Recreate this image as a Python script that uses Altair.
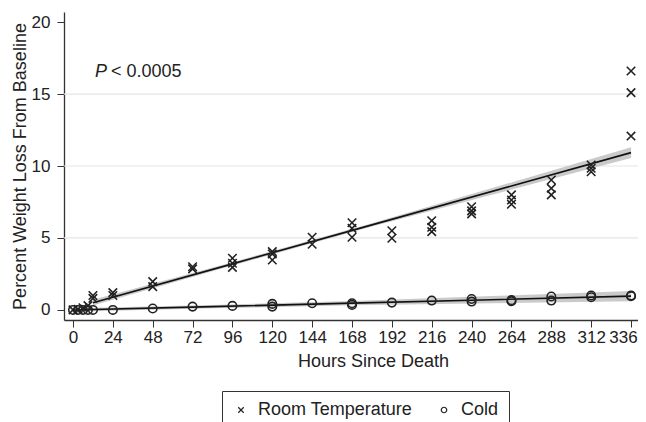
import altair as alt
import pandas as pd

# ---- data ----
room_t = [0, 3, 6, 9, 12, 12, 24, 24, 48, 48, 72, 72, 96, 96, 96, 120, 120, 120,
          144, 144, 168, 168, 168, 192, 192, 216, 216, 216, 240, 240, 240,
          264, 264, 264, 288, 288, 288, 312, 312, 312, 336, 336, 336]
room_v = [0.0, 0.05, 0.15, 0.3, 0.8, 1.0, 1.0, 1.2, 1.62, 1.97, 2.85, 3.0, 2.96, 3.24, 3.59,
          3.47, 3.89, 4.05, 4.56, 5.05, 5.05, 5.67, 6.06, 4.98, 5.5, 5.44, 5.74, 6.2,
          6.67, 6.88, 7.17, 7.34, 7.64, 7.99, 7.99, 8.45, 9.03, 9.6, 9.84, 10.07,
          12.08, 15.1, 16.6]

cold_t = [0, 3, 6, 9, 12, 24, 48, 72, 96, 120, 120, 144, 168, 168, 192, 216,
          240, 240, 264, 264, 288, 288, 312, 312, 336, 336]
cold_v = [0.0, 0.0, 0.0, 0.0, 0.0, 0.0, 0.1, 0.23, 0.28, 0.23, 0.42, 0.46, 0.35, 0.46,
          0.51, 0.65, 0.58, 0.76, 0.6, 0.68, 0.65, 0.93, 0.88, 1.0, 0.95, 1.0]

# fitted lines with confidence band
room_fit_t = [12, 96, 180, 264, 336]
room_fit = [0.5, 3.2, 5.91, 8.61, 10.93]
room_hw = [0.2, 0.12, 0.12, 0.25, 0.38]

cold_fit_t = [0, 84, 168, 252, 336]
cold_fit = [-0.01, 0.23, 0.47, 0.71, 0.96]
cold_hw = [0.12, 0.12, 0.15, 0.25, 0.35]

series = ["Room Temperature", "Cold"]
x_ticks = list(range(0, 337, 24))
y_ticks = [0, 5, 10, 15, 20]
grid_vals = [5, 10, 15]

ann_x = [13.2]
ann_y = [16.5]
ann_p = ["P"]
ann_rest = ["< 0.0005"]

# ---- tables ----
pts = pd.concat([
    pd.DataFrame({"t": room_t, "v": room_v, "series": series[0]}),
    pd.DataFrame({"t": cold_t, "v": cold_v, "series": series[1]}),
])
fit = pd.concat([
    pd.DataFrame({"t": room_fit_t, "fit": room_fit,
                  "lo": [f - h for f, h in zip(room_fit, room_hw)],
                  "hi": [f + h for f, h in zip(room_fit, room_hw)], "series": series[0]}),
    pd.DataFrame({"t": cold_fit_t, "fit": cold_fit,
                  "lo": [f - h for f, h in zip(cold_fit, cold_hw)],
                  "hi": [f + h for f, h in zip(cold_fit, cold_hw)], "series": series[1]}),
])
grid = pd.DataFrame({"g": grid_vals})
ann = pd.DataFrame({"x": ann_x, "y": ann_y, "p": ann_p, "rest": ann_rest})

FONT = "Liberation Sans"
TXT = "#222222"

xs = alt.Scale(domain=[-5.42, 340.2], nice=False, zero=False)
ys = alt.Scale(domain=[-0.7, 20.7], nice=False, zero=False)

x_axis = alt.Axis(values=x_ticks, title="Hours Since Death", grid=False,
                  labelFontSize=17, labelFont=FONT, labelColor=TXT, labelPadding=2,
                  labelOffset=alt.condition("datum.value == 336", alt.value(-8), alt.value(0)),
                  tickSize=7, tickColor="#333333", domainColor="#333333", domainWidth=1.3,
                  titleFont=FONT, titleFontSize=18, titleFontWeight="normal", titleColor=TXT,
                  titleX=309, titleY=46, titleBaseline="alphabetic", titleAlign="center")
y_axis = alt.Axis(values=y_ticks, title="Percent Weight Loss From Baseline", grid=False,
                  labelFontSize=17, labelFont=FONT, labelColor=TXT, labelPadding=7,
                  tickSize=7, tickColor="#333333", domainColor="#333333", domainWidth=1.3,
                  titleFont=FONT, titleFontSize=18, titleFontWeight="normal", titleColor=TXT,
                  titleX=-39, titleY=154, titleBaseline="alphabetic", titleAlign="center")

grid_layer = alt.Chart(grid).mark_rule(color="#e6e6e6", strokeWidth=1.2).encode(
    y=alt.Y("g:Q", scale=ys, axis=y_axis))

band = alt.Chart(fit).mark_area(color="#c4c4c4", opacity=0.9).encode(
    x=alt.X("t:Q", scale=xs, axis=x_axis),
    y=alt.Y("lo:Q", scale=ys),
    y2="hi:Q",
    detail="series:N")

line = alt.Chart(fit).mark_line(color="#111111", strokeWidth=1.6).encode(
    x=alt.X("t:Q", scale=xs),
    y=alt.Y("fit:Q", scale=ys),
    detail="series:N")

points = alt.Chart(pts).mark_point(filled=False, color="#222222", strokeWidth=1.6,
                                   size=72, opacity=1).encode(
    x=alt.X("t:Q", scale=xs),
    y=alt.Y("v:Q", scale=ys),
    shape=alt.Shape("series:N",
                    scale=alt.Scale(domain=series,
                                    range=["M-1,-1L1,1M-1,1L1,-1", "circle"]),
                    legend=alt.Legend(title=None, orient="none", legendX=158, legendY=379,
                                      direction="horizontal", padding=10,
                                      strokeColor="#333333", cornerRadius=0,
                                      columnPadding=22, labelOffset=8,
                                      labelFont=FONT, labelFontSize=18, labelColor=TXT,
                                      symbolSize=30, symbolStrokeWidth=1.2,
                                      symbolStrokeColor="#222222")))

p_text = alt.Chart(ann).mark_text(font=FONT, fontSize=18, fontStyle="italic", color=TXT,
                                  align="left", baseline="middle").encode(
    x=alt.X("x:Q", scale=xs), y=alt.Y("y:Q", scale=ys), text="p:N")
rest_text = alt.Chart(ann).mark_text(font=FONT, fontSize=18, color=TXT,
                                     align="left", baseline="middle", dx=16).encode(
    x=alt.X("x:Q", scale=xs), y=alt.Y("y:Q", scale=ys), text="rest:N")

chart = alt.layer(grid_layer, band, line, points, p_text, rest_text).properties(
    width=574, height=308,
    padding={"left": 56, "top": 4, "right": 0, "bottom": 110},
    autosize=alt.AutoSizeParams(type="none"),
).configure_view(stroke=None)

chart.save("out.html", embed_options={"renderer": "svg", "actions": False})
